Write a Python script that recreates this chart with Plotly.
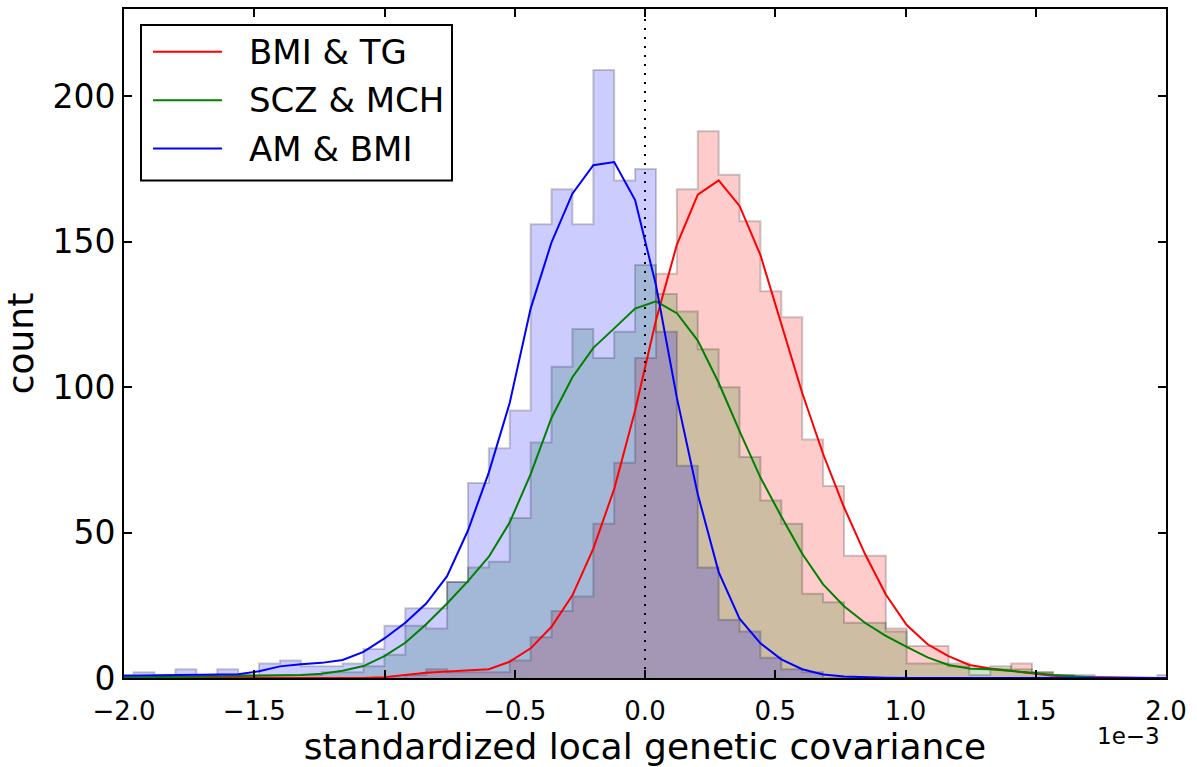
import plotly.graph_objects as go

# ---------------- data (x in units of 1e-3) ----------------
BIN_EDGES = [-2.0430, -1.9628, -1.8826, -1.8024, -1.7222, -1.6420, -1.5618, -1.4816,
             -1.4014, -1.3212, -1.2410, -1.1608, -1.0806, -1.0004, -0.9202, -0.8400,
             -0.7598, -0.6796, -0.5994, -0.5192, -0.4390, -0.3588, -0.2786, -0.1984,
             -0.1182, -0.0380, 0.0422, 0.1224, 0.2026, 0.2828, 0.3630, 0.4432,
             0.5234, 0.6036, 0.6838, 0.7640, 0.8442, 0.9244, 1.0046, 1.0848,
             1.1650, 1.2452, 1.3254, 1.4056, 1.4858, 1.5660, 1.6462, 1.7264,
             1.8066, 1.8868, 1.9670, 2.0472]

SERIES_NAMES = ["BMI & TG", "SCZ & MCH", "AM & BMI"]

COUNTS_BMI_TG = [0, 0, 0, 0, 0, 0, 0, 0, 0, 0, 0, 0, 0, 0, 1, 3, 2, 2, 2, 6, 14, 23, 28, 53, 74, 110,
                 139, 168, 188, 173, 157, 133, 124, 82, 66, 42, 42, 17, 11, 11, 5, 1, 3, 5, 2, 1,
                 0, 0, 0, 0, 1]
COUNTS_SCZ_MCH = [0, 0, 0, 0, 1, 0, 1, 1, 1, 1, 2, 2, 4, 8, 18, 17, 33, 38, 40, 55, 81, 107, 120, 110,
                  119, 142, 132, 126, 113, 100, 76, 61, 53, 29, 26, 19, 19, 16, 5, 5, 4, 3, 4, 3, 2,
                  1, 1, 0, 0, 0, 0]
COUNTS_AM_BMI = [1, 2, 1, 3, 1, 3, 1, 5, 6, 4, 4, 5, 10, 18, 24, 24, 33, 67, 79, 92, 156, 168, 156,
                 209, 171, 175, 119, 73, 38, 20, 16, 7, 3, 2, 0, 0, 0, 0, 0, 0, 0, 0, 0, 0, 0, 0,
                 0, 0, 0, 0, 0]

CURVE_BMI_TG = [0.0, 0.0, 0.0, 0.0, 0.0, 0.0, 0.0, 0.0, 0.0, 0.0, 0.0, 0.0, 0.0, 0.3, 1.0, 1.8,
                2.2, 2.5, 3.0, 5.6, 10.2, 17.6, 28.4, 44.5, 65.0, 92.0, 123.0, 149.0, 166.2, 171.1,
                162.3, 145.4, 122.0, 98.0, 77.0, 58.7, 42.7, 28.7, 18.2, 11.6, 7.5, 4.5, 3.3, 2.5,
                1.6, 0.8, 0.4, 0.2, 0.1, 0.05, 0.0, 0.0]
CURVE_SCZ_MCH = [0.1, 0.2, 0.2, 0.3, 0.3, 0.4, 0.5, 0.6, 0.8, 1.0, 1.5, 2.5, 4.1, 7.5, 12.1, 18.5,
                 25.6, 33.3, 41.7, 53.5, 70.1, 89.5, 103.4, 113.5, 120.2, 127.0, 129.5, 125.4, 116.0,
                 101.5, 84.9, 68.9, 55.5, 42.7, 32.2, 24.7, 19.0, 14.5, 10.7, 7.1, 4.5, 3.3, 3.0,
                 2.5, 1.8, 1.0, 0.5, 0.2, 0.1, 0.05, 0.0, 0.0]
CURVE_AM_BMI = [0.7, 0.8, 1.0, 1.1, 1.2, 1.2, 1.3, 2.3, 4.0, 4.7, 5.2, 6.2, 9.0, 13.6, 19.0, 25.6,
                35.0, 50.7, 70.7, 94.6, 127.0, 149.8, 166.5, 176.3, 177.4, 164.3, 135.0, 96.3, 63.2,
                36.4, 20.4, 11.9, 6.4, 3.0, 1.2, 0.5, 0.2, 0.1, 0.0, 0.0, 0.0, 0.0, 0.0, 0.0, 0.0,
                0.0, 0.0, 0.0, 0.0, 0.0, 0.0, 0.0]

X_TICKS = [-2.0, -1.5, -1.0, -0.5, 0.0, 0.5, 1.0, 1.5, 2.0]
X_TICK_TEXT = ["\u22122.0", "\u22121.5", "\u22121.0", "\u22120.5", "0.0", "0.5", "1.0", "1.5", "2.0"]
Y_TICKS = [0, 50, 100, 150, 200]

LINE_COLORS = ["#ff0000", "#008000", "#0000ff"]
FILL_COLORS = ["rgba(255,0,0,0.2)", "rgba(0,128,0,0.2)", "rgba(0,0,255,0.2)"]

COUNTS = [COUNTS_BMI_TG, COUNTS_SCZ_MCH, COUNTS_AM_BMI]
CURVES = [CURVE_BMI_TG, CURVE_SCZ_MCH, CURVE_AM_BMI]

FONT = "DejaVu Sans"


def step_polygon(edges, counts):
    xs, ys = [edges[0]], [0]
    for i, c in enumerate(counts):
        xs += [edges[i], edges[i + 1]]
        ys += [c, c]
    xs.append(edges[-1])
    ys.append(0)
    return xs, ys


fig = go.Figure()

for name, counts, fc in zip(SERIES_NAMES, COUNTS, FILL_COLORS):
    xs, ys = step_polygon(BIN_EDGES, counts)
    fig.add_trace(go.Scatter(x=xs, y=ys, mode="lines", fill="toself", fillcolor=fc,
                             line=dict(color="rgba(0,0,0,0.2)", width=2),
                             showlegend=False, hoverinfo="skip", name=name + " hist"))

for name, curve, lc in zip(SERIES_NAMES, CURVES, LINE_COLORS):
    fig.add_trace(go.Scatter(x=BIN_EDGES, y=curve, mode="lines",
                             line=dict(color=lc, width=2), showlegend=False, name=name))

# dotted vertical line at zero
fig.add_shape(type="line", xref="x", yref="paper", x0=0, x1=0, y0=0, y1=1,
              line=dict(color="black", width=2, dash="2px,7px"), layer="above")

# custom legend (matplotlib-like)
L, R, T, B = 124, 1166, 7, 678
def px(x):
    return (x - L) / (R - L)
def py(y):
    return (B - y) / (B - T)

fig.add_shape(type="rect", xref="paper", yref="paper", x0=px(141), x1=px(452),
              y0=py(179), y1=py(23), line=dict(color="black", width=2),
              fillcolor="white", layer="above")
for i, (name, lc) in enumerate(zip(SERIES_NAMES, LINE_COLORS)):
    yy = 50 + i * 48.5
    fig.add_shape(type="line", xref="paper", yref="paper", x0=px(153), x1=px(222),
                  y0=py(yy), y1=py(yy), line=dict(color=lc, width=2), layer="above")
    fig.add_annotation(xref="paper", yref="paper", x=px(247), y=py(yy), text=name,
                       showarrow=False, xanchor="left", yanchor="middle",
                       font=dict(family=FONT, size=34, color="black"))

fig.add_annotation(xref="paper", yref="paper", x=1.0, y=py(736), text="1e\u22123",
                   showarrow=False, xanchor="right", yanchor="middle", xshift=-4,
                   font=dict(family=FONT, size=23, color="black"))

fig.update_layout(
    width=1197, height=767,
    margin=dict(l=L, r=1197 - R, t=T, b=767 - B),
    paper_bgcolor="white", plot_bgcolor="white",
    font=dict(family=FONT, color="black"),
    showlegend=False,
    xaxis=dict(range=[-2, 2], tickvals=X_TICKS, ticktext=X_TICK_TEXT,
               ticks="inside", ticklen=8, tickwidth=1.5, tickcolor="black",
               showline=True, linecolor="black", linewidth=2, mirror="ticks",
               showgrid=False, zeroline=False, ticklabelstandoff=9,
               tickfont=dict(family=FONT, size=26),
               title=dict(text="standardized local genetic covariance",
                          font=dict(family=FONT, size=36), standoff=3)),
    yaxis=dict(range=[0, 230], tickvals=Y_TICKS,
               ticks="inside", ticklen=8, tickwidth=1.5, tickcolor="black",
               showline=True, linecolor="black", linewidth=2, mirror="ticks",
               showgrid=False, zeroline=False,
               tickfont=dict(family=FONT, size=33),
               title=dict(text="count", font=dict(family=FONT, size=36), standoff=14)),
)

fig.write_html("out.html")
